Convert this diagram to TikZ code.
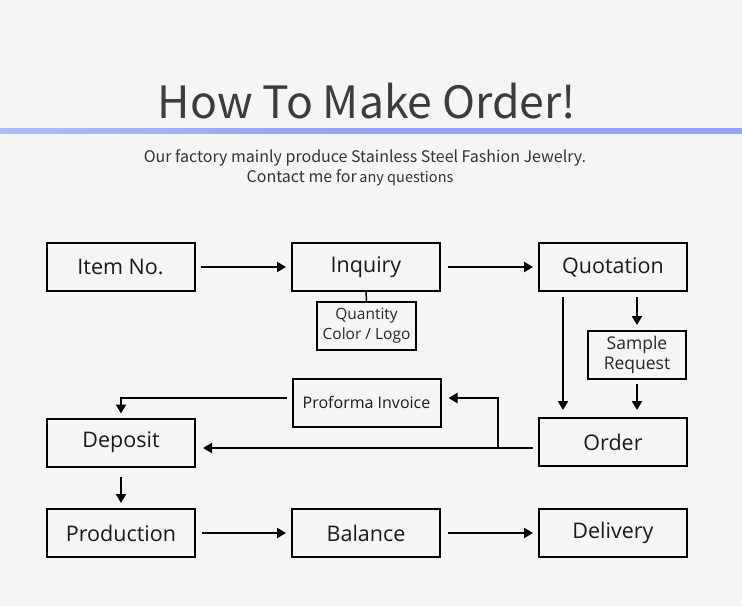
\documentclass[tikz,border=0pt]{standalone}
\usepackage{fontspec}
\setmainfont{Open Sans}
\newfontfamily\titlefont{Noto Sans CJK SC}
\usetikzlibrary{arrows.meta}
\definecolor{bg}{HTML}{F5F5F5}
\definecolor{titlegray}{HTML}{3C3C3A}
\definecolor{subgray}{HTML}{333333}
\definecolor{bluebar}{HTML}{93A2F2}
\tikzset{
  box/.style={draw=black, line width=2pt, minimum width=148pt, minimum height=48pt, inner sep=0pt, font=\fontsize{21.5}{24}\selectfont, text=black!90},
  smallbox/.style={draw=black, line width=2pt, inner sep=0pt, align=center, font=\fontsize{15.5}{20}\selectfont, text=black!85},
  conn/.style={line width=2pt, -{Triangle[length=9pt,width=10pt]}},
  plain/.style={line width=1.5pt}
}
\begin{document}
\begin{tikzpicture}[x=1pt,y=-1pt]
\fill[bg] (0,0) rectangle (742,606);
\useasboundingbox (0,0) rectangle (742,606);
% title
\node[font=\titlefont\fontsize{44.5}{50}\selectfont, text=titlegray, anchor=base] (title) at (367,118) {How To Make Order!};
\shade[left color=bluebar!75, right color=bluebar, middle color=bluebar] (0,128.5) rectangle (742,133.5);
\node[font=\titlefont\fontsize{16}{20}\selectfont, text=subgray, anchor=base] (sub1) at (365,162) {Our factory mainly produce Stainless Steel Fashion Jewelry.};
\node[font=\titlefont\fontsize{16}{20}\selectfont, text=subgray, anchor=base] (sub2) at (350,182) {Contact me for\,{\fontsize{14.5}{18}\selectfont any questions}};
% boxes
\node[box] (item) at (120.5,267) {Item No.};
\node[box] (inq) at (366,267) {Inquiry};
\node[box] (quot) at (613,267) {Quotation};
\node[smallbox, minimum width=99pt, minimum height=48pt] (qty) at (366.5,326) {Quantity\\Color / Logo};
\node[smallbox, minimum width=98pt, minimum height=48pt, font=\fontsize{17.5}{20}\selectfont] (sample) at (637,355) {Sample\\Request};
\node[box, font=\fontsize{16}{18}\selectfont] (pi) at (366.5,402.5) {Proforma Invoice};
\node[box] (dep) at (121,442.5) {Deposit};
\node[box] (order) at (613,442) {Order};
\node[box] (prod) at (121,533) {Production};
\node[box] (bal) at (366,533) {Balance};
\node[box] (del) at (613,533) {Delivery};
% helper coordinates
\coordinate (junc) at (498,448);
% connectors
\draw[conn] ([xshift=5pt]item.east) -- ([xshift=-5pt]inq.west);
\draw[conn] ([xshift=7pt]inq.east) -- ([xshift=-5pt]quot.west);
\draw[plain] (inq.south) -- (qty.north);
\draw[conn] ([yshift=-5pt]quot.south -| sample.north) -- ([yshift=5pt]sample.north);
\draw[conn] ([yshift=-5pt]quot.south -| 563,0) -- ([yshift=7pt]order.north -| 563,0);
\draw[conn] ([yshift=-4pt]sample.south) -- ([yshift=7pt]order.north -| sample.south);
\draw[conn] ([xshift=-5pt]order.west |- junc) -- ([xshift=7pt]dep.east |- junc);
\draw[conn] (junc) -- (498,398) -- ([xshift=7pt]pi.east |- 0,398);
\draw[conn] ([xshift=-5pt]pi.west |- 0,398) -- (121,398) -- ([yshift=4pt]dep.north);
\draw[conn] ([yshift=-9pt]dep.south) -- ([yshift=5pt]prod.north);
\draw[conn] ([xshift=6pt]prod.east) -- ([xshift=-5pt]bal.west);
\draw[conn] ([xshift=7pt]bal.east) -- ([xshift=-5pt]del.west);
\end{tikzpicture}
\end{document}
